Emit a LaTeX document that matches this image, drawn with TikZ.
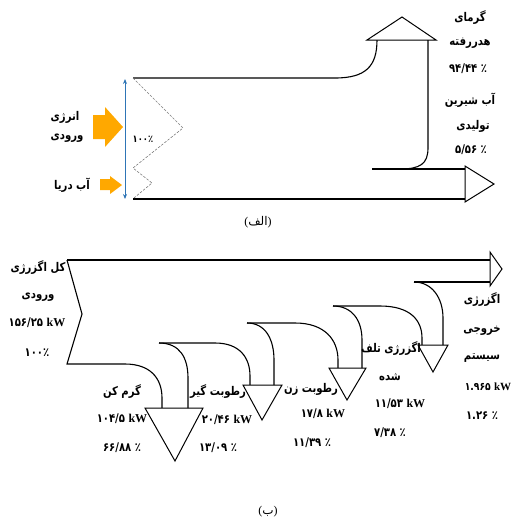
\documentclass[tikz,border=0pt]{standalone}
\usepackage{fontspec}
\setmainfont{Liberation Serif}
\newfontfamily\fa[Script=Arabic,FakeStretch=0.84]{DejaVu Sans}
\newfontfamily\faplain[Script=Arabic]{DejaVu Sans}
\TeXXeTstate=1
\usetikzlibrary{arrows.meta}
\definecolor{flowblue}{RGB}{46,117,182}
\definecolor{inorange}{RGB}{255,168,0}
\definecolor{ziggray}{RGB}{125,125,125}

\begin{document}
\begin{tikzpicture}[x=1pt,y=-1pt,
  flow/.style={draw=black,line width=1.1pt,line join=miter},
  tiptri/.style={draw=black,line width=1pt,fill=white,line join=miter},
  fa/.style={font=\fa\bfseries\fontsize{12}{14}\selectfont,inner sep=0pt},
  capt/.style={font=\faplain\fontsize{12}{14}\selectfont,inner sep=0pt}]
\useasboundingbox (0,0) rectangle (516,523);

% ---------- (a) desalination balance ----------
\coordinate (inTop) at (133,78);
\coordinate (inBot) at (133,199);
% input band, upper edge bending up into the heat-loss arrow
\draw[flow] (inTop) -- (335,78) .. controls (366,78) and (377,66) .. (377,40);
\draw[tiptri] (367,40) -- (402,17) -- (436,40) -- cycle;
% split line between heat loss and fresh water
\draw[flow] (428,40) -- (428,148) .. controls (428,164) and (420,169) .. (400,169);
\draw[flow] (372,169) -- (465,169);
\draw[flow] (inBot) -- (465,199);
\draw[tiptri] (465,166) -- (494,184) -- (465,202) -- cycle;
% dashed inlet edge
\draw[ziggray,line width=0.6pt,dash pattern=on 2.5pt off 1.5pt]
  (inTop) -- (183,128) -- (133,168) -- (152,183) -- (134,198);
% 100 % span
\coordinate (spanTop) at (125,79);
\coordinate (spanBot) at (125,199);
\draw[flowblue,line width=0.8pt,{Stealth[length=5pt,width=4pt]}-{Stealth[length=5pt,width=4pt]}] (spanTop) -- (spanBot);
% input arrows
\fill[inorange] (93,115) -- (105,115) -- (105,107) -- (123,127) -- (105,147) -- (105,139) -- (93,139) -- cycle;
\fill[inorange] (100,179) -- (110,179) -- (110,176) -- (122,185) -- (110,194) -- (110,190) -- (100,190) -- cycle;

\node[fa] (enA) at (65,117) {\beginR انرژی\endR};
\node[fa] (enB) at (67,138) {\beginR ورودی\endR};
\node[fa] (sea) at (72,185) {\beginR آب دریا\endR};
\node[fa,font=\fa\bfseries\fontsize{10}{11}\selectfont] (pct) at (143,139) {\beginR\beginL ۱۰۰٪\endL\endR};
\node[fa] (heatA) at (470,18) {\beginR گرمای\endR};
\node[fa] (heatB) at (470,43) {\beginR هدررفته\endR};
\node[fa] (heatV) at (468,69) {\beginR ٪ \beginL ۹۴/۴۴\endL\endR};
\node[fa] (freshA) at (470,100) {\beginR آب شیرین\endR};
\node[fa] (freshB) at (473,126) {\beginR تولیدی\endR};
\node[fa] (freshV) at (471,150) {\beginR ٪ \beginL ۵/۵۶\endL\endR};
\node[capt] (captA) at (258,222) {{\rmfamily(}\beginR الف\endR{\rmfamily)}};

% ---------- (b) exergy flow ----------
\draw[flow,line width=1.4pt] (67,260) -- (490,260);
\draw[tiptri] (490,252) -- (502,269) -- (490,286) -- cycle;
% inlet edge and first branch
\draw[flow] (67,260) -- (82,314) -- (67,364) -- (125,364)
  .. controls (150,364) and (162,378) .. (162,398) -- (162,408);
\draw[tiptri] (145,408) -- (175,461) -- (203,408) -- cycle;
% second level
\draw[flow] (159,343) .. controls (180,343) and (188,358) .. (188,378) -- (188,408);
\draw[flow] (159,343) -- (215,343) .. controls (240,343) and (250,358) .. (250,376) -- (250,385);
\draw[tiptri] (243,385) -- (262,420) -- (282,385) -- cycle;
% third level
\draw[flow] (247,323) .. controls (266,323) and (274,340) .. (274,360) -- (274,385);
\draw[flow] (247,323) -- (295,323) .. controls (325,323) and (338,340) .. (338,360) -- (338,368);
\draw[tiptri] (329,368) -- (347,400) -- (366,368) -- cycle;
% fourth level
\draw[flow] (333,306) .. controls (352,306) and (362,320) .. (362,340) -- (362,368);
\draw[flow] (333,306) -- (380,306) .. controls (410,306) and (422,320) .. (422,338) -- (422,345);
\draw[tiptri] (418,345) -- (433,372) -- (448,345) -- cycle;
% fifth level
\draw[flow] (414,282) .. controls (432,282) and (443,298) .. (443,318) -- (443,345);
\draw[flow] (414,282) -- (490,282);

\node[fa] (totA) at (38,268) {\beginR کل اگزرژی\endR};
\node[fa] (totB) at (38,297) {\beginR ورودی\endR};
\node[fa] (totV) at (37,323) {\beginR\beginL ۱۵۶/۲۵ {\rmfamily\bfseries kW}\endL\endR};
\node[fa] (totP) at (37,353) {\beginR\beginL ۱۰۰٪\endL\endR};
\node[fa] (b1A) at (122,392) {\beginR گرم کن\endR};
\node[fa] (b1V) at (122,419) {\beginR\beginL ۱۰۴/۵ {\rmfamily\bfseries kW}\endL\endR};
\node[fa] (b1P) at (122,448) {\beginR ٪ \beginL ۶۶/۸۸\endL\endR};
\node[fa] (b2A) at (218,392) {\beginR رطوبت گیر\endR};
\node[fa] (b2V) at (227,420) {\beginR\beginL ۲۰/۴۶ {\rmfamily\bfseries kW}\endL\endR};
\node[fa] (b2P) at (218,448) {\beginR ٪ \beginL ۱۳/۰۹\endL\endR};
\node[fa] (b3A) at (311,389) {\beginR رطوبت زن\endR};
\node[fa] (b3V) at (323,414) {\beginR\beginL ۱۷/۸ {\rmfamily\bfseries kW}\endL\endR};
\node[fa] (b3P) at (312,443) {\beginR ٪ \beginL ۱۱/۳۹\endL\endR};
\node[fa] (b4A) at (391,349) {\beginR اگزرژی تلف\endR};
\node[fa] (b4B) at (390,377) {\beginR شده\endR};
\node[fa] (b4V) at (400,404) {\beginR\beginL ۱۱/۵۳ {\rmfamily\bfseries kW}\endL\endR};
\node[fa] (b4P) at (390,433) {\beginR ٪ \beginL ۷/۳۸\endL\endR};
\node[fa] (outA) at (482,300) {\beginR اگزرژی\endR};
\node[fa] (outB) at (482,331) {\beginR خروجی\endR};
\node[fa] (outC) at (482,358) {\beginR سیستم\endR};
\node[fa,font=\fa\bfseries\fontsize{11}{13}\selectfont] (outV) at (488,387) {\beginR\beginL ۱.۹۶۵ {\rmfamily\bfseries kW}\endL\endR};
\node[fa] (outP) at (482,416) {\beginR ٪ \beginL ۱.۲۶\endL\endR};
\node[capt] (captB) at (268,512) {{\rmfamily(}\beginR ب\endR{\rmfamily)}};
\end{tikzpicture}
\end{document}
